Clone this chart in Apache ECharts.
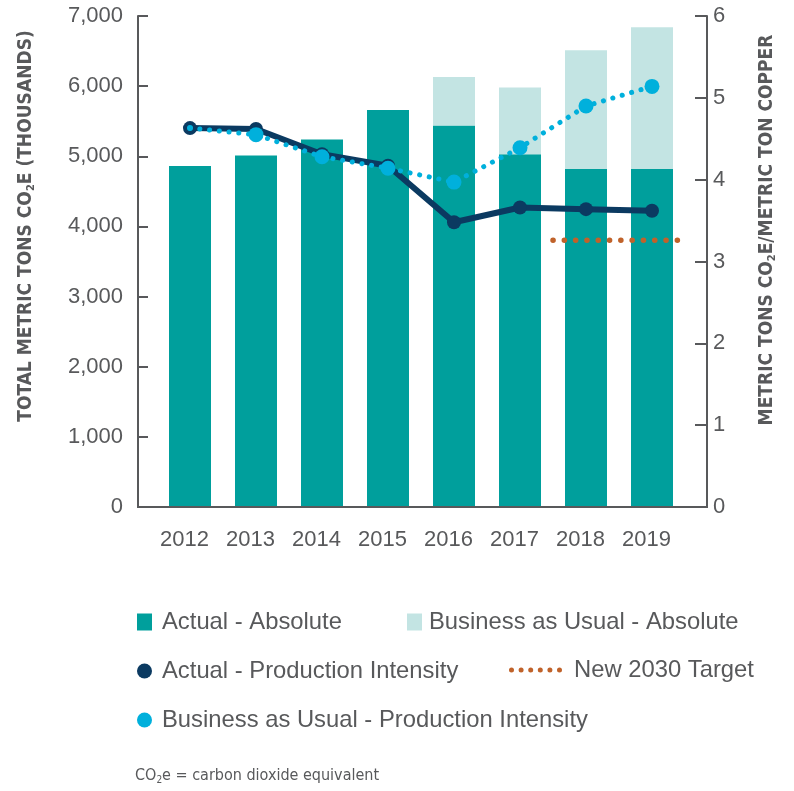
<!DOCTYPE html>
<html>
<head>
<meta charset="utf-8">
<script src="https://cdn.jsdelivr.net/npm/echarts@6/dist/echarts.min.js"></script>
<style>
  html, body { margin: 0; padding: 0; background: #fff; }
  #main { width: 794px; height: 791px; }
</style>
</head>
<body>
<div id="main"></div>
<script>
// data
var categories = ['2012', '2013', '2014', '2015', '2016', '2017', '2018', '2019'];
var actualAbsolute = [4860, 5010, 5240, 5660, 5440, 5030, 4820, 4820];
var bauAbsoluteExtra = [null, null, null, null, 690, 950, 1690, 2020];
var actualIntensity = [4.63, 4.62, 4.31, 4.17, 3.48, 3.66, 3.64, 3.62];
var bauIntensity = [4.63, 4.55, 4.28, 4.14, 3.97, 4.39, 4.90, 5.14];
var targetIntensity = 3.26;
var targetYears = ['2018', '2019'];
var leftTicks = [0, 1000, 2000, 3000, 4000, 5000, 6000, 7000];
var rightTicks = [0, 1, 2, 3, 4, 5, 6];

var TEXT = '#58595b';
var AXIS = '#58595b';
var FONT = '"Liberation Sans", Arial, sans-serif';
var COND = '"DejaVu Sans", sans-serif';

// target line spans the bands of its years, on a hidden value axis (band i = [i, i+1])
var targetData = [
  [categories.indexOf(targetYears[0]), targetIntensity],
  [categories.indexOf(targetYears[targetYears.length - 1]) + 1, targetIntensity]
];

// six dots for the target legend icon
function dotsPath(n, r, step) {
  var d = '';
  for (var i = 0; i < n; i++) {
    var cx = r + i * step;
    d += 'M' + (cx - r) + ',' + r + 'a' + r + ',' + r + ' 0 1,0 ' + (2 * r) + ',0' +
         'a' + r + ',' + r + ' 0 1,0 ' + (-2 * r) + ',0Z';
  }
  return 'path://' + d;
}

var chart = echarts.init(document.getElementById('main'), null, { renderer: 'canvas' });

function oneLegend(name, left, top, extra) {
  return Object.assign({
    data: [name],
    left: left,
    top: top,
    padding: 0,
    itemWidth: 15,
    itemHeight: 17,
    selectedMode: false,
    textStyle: { color: TEXT, fontSize: 23.8, fontFamily: FONT, padding: [0, 0, 0, 5] }
  }, extra || {});
}

chart.setOption({
  animation: false,
  grid: { left: 157, right: 109, top: 16, bottom: 284, outerBoundsMode: 'none' },
  legend: [
    oneLegend('Actual - Absolute', 137, 610, { icon: 'rect' }),
    oneLegend('Business as Usual - Absolute', 407, 610, { icon: 'rect',
      textStyle: { color: TEXT, fontSize: 23.8, fontFamily: FONT, padding: [0, 0, 0, 2] } }),
    oneLegend('Actual - Production Intensity', 137, 659, { icon: 'circle' }),
    oneLegend('New 2030 Target', 509, 658, {
      icon: dotsPath(6, 2.5, 9.6),
      itemWidth: 53,
      itemHeight: 5,
      textStyle: { color: TEXT, fontSize: 23.8, fontFamily: FONT, padding: [0, 0, 0, 7] }
    }),
    oneLegend('Business as Usual - Production Intensity', 137, 708, { icon: 'circle' })
  ],
  xAxis: [
    {
      type: 'category',
      data: categories,
      axisLine: { show: false },
      axisTick: { show: false },
      axisLabel: { color: TEXT, fontSize: 22, fontFamily: FONT, margin: 22, padding: [0, 11, 0, 0] }
    },
    { type: 'value', min: 0, max: categories.length, show: false }
  ],
  yAxis: [
    {
      type: 'value',
      min: leftTicks[0],
      max: leftTicks[leftTicks.length - 1],
      interval: leftTicks[1] - leftTicks[0],
      offset: 19,
      splitLine: { show: false },
      axisLine: { show: true, onZero: false, lineStyle: { color: AXIS, width: 2 } },
      axisTick: { show: true, inside: true, length: 10, lineStyle: { color: AXIS, width: 2 } },
      axisLabel: {
        color: TEXT, fontSize: 22, fontFamily: FONT, margin: 15,
        formatter: function (v) { return v.toLocaleString('en-US'); }
      }
    },
    {
      type: 'value',
      min: rightTicks[0],
      max: rightTicks[rightTicks.length - 1],
      interval: rightTicks[1] - rightTicks[0],
      offset: 22,
      splitLine: { show: false },
      axisLine: { show: true, onZero: false, lineStyle: { color: AXIS, width: 2 } },
      axisTick: { show: true, inside: true, length: 12, lineStyle: { color: AXIS, width: 2 } },
      axisLabel: { color: TEXT, fontSize: 22, fontFamily: FONT, margin: 6 }
    }
  ],
  series: [
    {
      name: 'Actual - Absolute',
      type: 'bar',
      stack: 'abs',
      barWidth: 42,
      itemStyle: { color: '#009f9c' },
      emphasis: { disabled: true },
      data: actualAbsolute
    },
    {
      name: 'Business as Usual - Absolute',
      type: 'bar',
      stack: 'abs',
      barWidth: 42,
      itemStyle: { color: '#c3e4e3' },
      emphasis: { disabled: true },
      data: bauAbsoluteExtra
    },
    {
      name: 'Actual - Production Intensity',
      type: 'line',
      yAxisIndex: 1,
      z: 3,
      symbol: 'circle',
      symbolSize: 14,
      itemStyle: { color: '#0b3a61' },
      lineStyle: { color: '#0b3a61', width: 6 },
      emphasis: { disabled: true },
      data: actualIntensity
    },
    {
      name: 'New 2030 Target',
      type: 'line',
      xAxisIndex: 1,
      yAxisIndex: 1,
      z: 3,
      symbol: 'none',
      lineStyle: { color: '#c0622a', width: 5.5, type: [0.1, 11.2], cap: 'round' },
      itemStyle: { color: '#c0622a' },
      emphasis: { disabled: true },
      data: targetData
    },
    {
      name: 'Business as Usual - Production Intensity',
      type: 'line',
      yAxisIndex: 1,
      z: 4,
      symbol: 'circle',
      symbolSize: function (v, p) { return p.dataIndex === 0 ? 6 : 15; },
      itemStyle: { color: '#00b0dc' },
      lineStyle: { color: '#00b0dc', width: 5, type: [0.1, 9.7], cap: 'round' },
      emphasis: { disabled: true },
      data: bauIntensity
    }
  ],
  graphic: [
    {
      type: 'line',
      shape: { x1: 137, y1: 507, x2: 708, y2: 507 },
      style: { stroke: AXIS, lineWidth: 2 },
      z: 10
    },
    {
      type: 'text',
      x: 26, y: 226,
      rotation: Math.PI / 2,
      style: {
        text: '{t|TOTAL METRIC TONS CO}{s|2}{t|E (THOUSANDS)}',
        align: 'center', verticalAlign: 'middle',
        rich: {
          t: { fontSize: 19, fontWeight: 'bold condensed', fontFamily: COND, fill: TEXT },
          s: { fontSize: 11, fontWeight: 'bold condensed', fontFamily: COND, fill: TEXT, verticalAlign: 'bottom', padding: [11, 0, 0, 0] }
        }
      }
    },
    {
      type: 'text',
      x: 767, y: 230,
      rotation: Math.PI / 2,
      style: {
        text: '{t|METRIC TONS CO}{s|2}{t|E/METRIC TON COPPER}',
        align: 'center', verticalAlign: 'middle',
        rich: {
          t: { fontSize: 19, fontWeight: 'bold condensed', fontFamily: COND, fill: TEXT },
          s: { fontSize: 11, fontWeight: 'bold condensed', fontFamily: COND, fill: TEXT, verticalAlign: 'bottom', padding: [11, 0, 0, 0] }
        }
      }
    },
    {
      type: 'text',
      x: 135, y: 776,
      style: {
        text: '{t|CO}{s|2}{t|e = carbon dioxide equivalent}',
        align: 'left', verticalAlign: 'middle',
        rich: {
          t: { fontSize: 16, fontWeight: 'normal condensed', fontFamily: COND, fill: TEXT },
          s: { fontSize: 10, fontWeight: 'normal condensed', fontFamily: COND, fill: TEXT, verticalAlign: 'bottom', padding: [8, 0, 0, 0] }
        }
      }
    }
  ]
});
</script>
</body>
</html>
